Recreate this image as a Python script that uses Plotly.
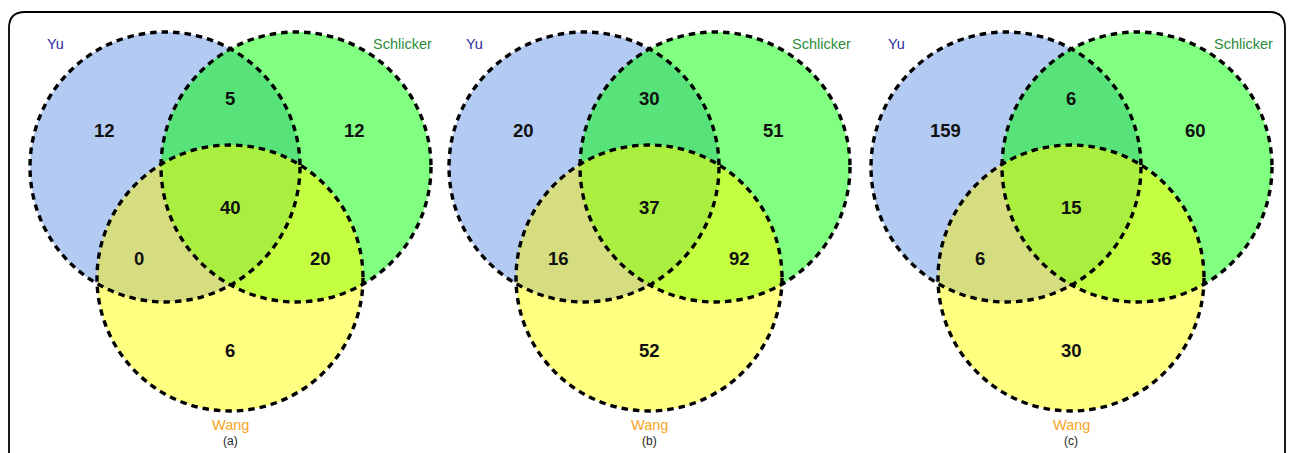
import numpy as np
import plotly.graph_objects as go

# ---- data ----
panels = ["(a)", "(b)", "(c)"]
set_names = ["Yu", "Schlicker", "Wang"]
yu_only = [12, 20, 159]
schlicker_only = [12, 51, 60]
wang_only = [6, 52, 30]
yu_schlicker = [5, 30, 6]
yu_wang = [0, 16, 6]
schlicker_wang = [20, 92, 36]
all_three = [40, 37, 15]

# ---- layout geometry (pixels) ----
W, H = 1292, 453
panel_cx = [230, 649, 1071]
R_TOP, R_BOT = 135, 133
col_yu, col_sc, col_wa = "#b3caf2", "#80ff80", "#ffff80"
col_ys, col_yw, col_sw, col_all = "#57e27a", "#d6dd80", "#c3ff40", "#aaee40"


def circle_poly(cx, cy, r, n=360):
    t = np.linspace(0, 2 * np.pi, n, endpoint=False)
    return list(zip(cx + r * np.cos(t), cy + r * np.sin(t)))


def clip(subject, clipper):
    def inside(p, a, b, s):
        return s * ((b[0] - a[0]) * (p[1] - a[1]) - (b[1] - a[1]) * (p[0] - a[0])) >= 0

    def inter(p1, p2, a, b):
        x1, y1 = p1; x2, y2 = p2; x3, y3 = a; x4, y4 = b
        den = (x1 - x2) * (y3 - y4) - (y1 - y2) * (x3 - x4)
        t = ((x1 - x3) * (y3 - y4) - (y1 - y3) * (x3 - x4)) / den
        return (x1 + t * (x2 - x1), y1 + t * (y2 - y1))

    n = len(clipper)
    area = sum(clipper[i][0] * clipper[(i + 1) % n][1] - clipper[(i + 1) % n][0] * clipper[i][1] for i in range(n))
    s = 1 if area > 0 else -1
    out = subject
    for i in range(n):
        a, b = clipper[i], clipper[(i + 1) % n]
        inp = out
        out = []
        if not inp:
            break
        prev = inp[-1]
        for cur in inp:
            if inside(cur, a, b, s):
                if not inside(prev, a, b, s):
                    out.append(inter(prev, cur, a, b))
                out.append(cur)
            elif inside(prev, a, b, s):
                out.append(inter(prev, cur, a, b))
            prev = cur
    return out


fig = go.Figure()


def add_poly(poly, color):
    xs = [p[0] for p in poly] + [poly[0][0]]
    ys = [p[1] for p in poly] + [poly[0][1]]
    fig.add_trace(go.Scatter(x=xs, y=ys, mode="lines", fill="toself", fillcolor=color,
                             line=dict(width=0, color=color), hoverinfo="skip", showlegend=False))


shapes = []
annotations = []
FONT = "Liberation Sans, Arial, sans-serif"
num_font = dict(family=FONT, size=18.5, color="#111111")
lab_font = dict(family=FONT, size=14.5)
for k, cx in enumerate(panel_cx):
    cyu = (cx - 65, 167)
    csc = (cx + 66, 167)
    cwa = (cx, 278)
    A = circle_poly(*cyu, R_TOP)
    B = circle_poly(*csc, R_TOP)
    C = circle_poly(*cwa, R_BOT)
    add_poly(A, col_yu)
    add_poly(B, col_sc)
    add_poly(C, col_wa)
    add_poly(clip(A, B), col_ys)
    add_poly(clip(A, C), col_yw)
    add_poly(clip(B, C), col_sw)
    add_poly(clip(clip(A, B), C), col_all)
    for (ccx, ccy), r in [(cyu, R_TOP), (csc, R_TOP), (cwa, R_BOT)]:
        shapes.append(dict(type="circle", xref="x", yref="y", x0=ccx - r, x1=ccx + r, y0=ccy - r, y1=ccy + r,
                           line=dict(color="black", width=3.4, dash="6.5px,5px"), layer="above"))
    vals = [
        (yu_only[k], -126, 130), (yu_schlicker[k], 0, 98), (schlicker_only[k], 124, 130),
        (all_three[k], 0, 207), (yu_wang[k], -91, 258), (schlicker_wang[k], 90, 258),
        (wang_only[k], 0, 350),
    ]
    for v, dx, y in vals:
        annotations.append(dict(x=cx + dx, y=y, text=f"<b>{v}</b>", showarrow=False, font=num_font,
                                xanchor="center", yanchor="middle"))
    annotations.append(dict(x=cx - 175, y=44, text=set_names[0], showarrow=False,
                            font=dict(**lab_font, color="#2b2ba0"), xanchor="center", yanchor="middle"))
    annotations.append(dict(x=cx + 172, y=44, text=set_names[1], showarrow=False,
                            font=dict(**lab_font, color="#2e8b3a"), xanchor="center", yanchor="middle"))
    annotations.append(dict(x=cx, y=425, text=set_names[2], showarrow=False,
                            font=dict(**lab_font, color="#f5a623"), xanchor="center", yanchor="middle"))
    annotations.append(dict(x=cx, y=441, text=panels[k], showarrow=False,
                            font=dict(family=FONT, size=12, color="#222222"),
                            xanchor="center", yanchor="middle"))

# rounded border (bottom runs off the picture)
x0b, y0b, x1b, y1b, rr = 9, 12, 1285, 480, 16
border = (f"M {x0b},{y1b} L {x0b},{y0b + rr} Q {x0b},{y0b} {x0b + rr},{y0b} "
          f"L {x1b - rr},{y0b} Q {x1b},{y0b} {x1b},{y0b + rr} L {x1b},{y1b}")
shapes.append(dict(type="path", xref="x", yref="y", path=border, line=dict(color="black", width=1.8), layer="above"))

fig.update_layout(
    width=W, height=H, margin=dict(l=0, r=0, t=0, b=0),
    paper_bgcolor="white", plot_bgcolor="white",
    xaxis=dict(range=[0, W], visible=False, fixedrange=True),
    yaxis=dict(range=[H, 0], visible=False, fixedrange=True),
    shapes=shapes, annotations=annotations, showlegend=False,
)
fig.write_html("out.html")
